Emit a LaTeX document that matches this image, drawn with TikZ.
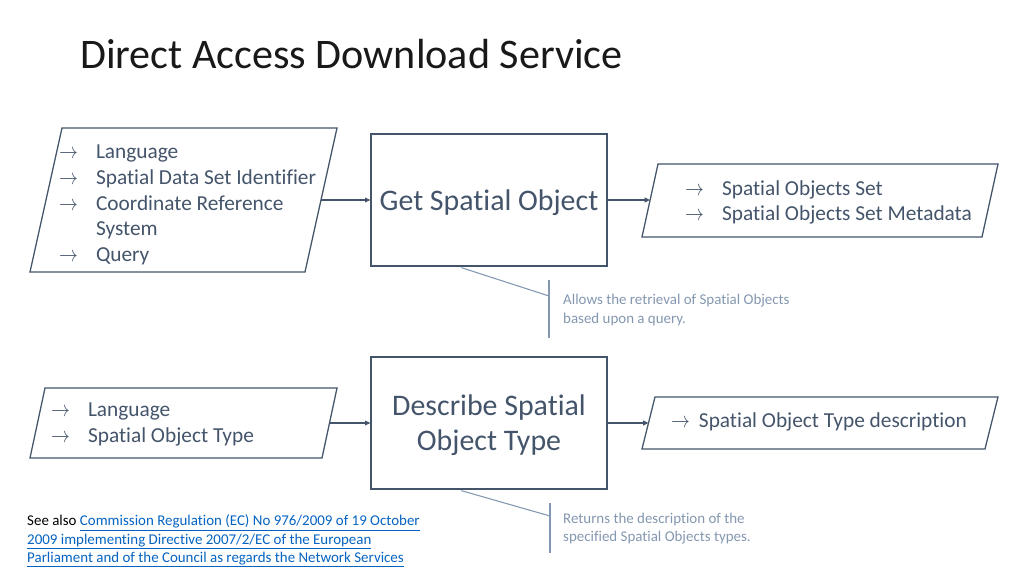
\documentclass[tikz,border=0pt]{standalone}
\usepackage{fontspec}
\setmainfont{Carlito}[Ligatures=NoCommon]
\usepackage{xcolor}
\usetikzlibrary{arrows.meta}
\definecolor{slate}{HTML}{44546A}
\definecolor{mist}{HTML}{8497B0}
\definecolor{linkblue}{HTML}{0563C1}
\tikzset{
  proc/.style={draw=slate,line width=1.2pt,minimum width=221.25pt,minimum height=123.75pt,align=center,text=slate,text depth=0pt,font=\fontsize{28}{33}\selectfont},
  iobox/.style={draw=slate,line width=1.2pt,line join=miter},
  items/.style={anchor=west,align=left,inner sep=0pt,text=slate,font=\fontsize{20}{24}\selectfont},
  arr/.style={-{Triangle[length=5pt,width=4.5pt]},draw=slate,line width=1pt},
  note/.style={anchor=west,align=left,inner sep=0pt,text=mist,font=\fontsize{14}{17}\selectfont},
  bar/.style={draw=mist,line width=1pt},
}
\newcommand{\arrowglyph}{\scalebox{0.85}[1]{$\rightarrow$}}
\newcommand{\itemarrow}{\makebox[34.5pt][l]{\arrowglyph}}
\newcommand{\linkline}[1]{{\color{linkblue}\underline{#1}}}

\begin{document}
\begin{tikzpicture}[x=0.9375pt,y=-0.9375pt]
\useasboundingbox (0,0) rectangle (1024,576);
\node[anchor=base west,inner sep=0pt,font=\fontsize{39.5}{47}\selectfont,text=black!90] (title) at (80,69) {Direct Access Download Service};

% get spatial object
\draw[iobox] (30,272) -- (62,128) -- (337,128) -- (305,272) -- cycle;
\coordinate (in1e) at (321,200);
\node[items] (in1txt) at (59,205) {\itemarrow Language\\ \itemarrow Spatial Data Set Identifier\\ \itemarrow Coordinate Reference\\ \makebox[34.5pt]{}System\\ \itemarrow Query};
\node[proc] (get) at (489,200) {Get Spatial Object};
\draw[iobox] (642,237) -- (658,164) -- (998,164) -- (982,237) -- cycle;
\coordinate (out1w) at (650,200);
\node[items] (out1txt) at (685,202.5) {\itemarrow Spatial Objects Set\\ \itemarrow Spatial Objects Set Metadata};
\draw[arr] (in1e) -- (get.west);
\draw[arr] (get.east) -- (out1w);

% callout
\coordinate (c1a) at ([shift={(91,1)}]get.south west);
\coordinate (c1b) at (549,296);
\coordinate (c1t) at (549,280);
\coordinate (c1d) at (549,338);
\draw[bar] (c1a) -- (c1b);
\draw[bar] (c1t) -- (c1d);
\node[note] (note1) at (563,310) {Allows the retrieval of Spatial Objects\\based upon a query.};

% describe spatial object type
\draw[iobox] (30,458) -- (45,388) -- (337,388) -- (322,458) -- cycle;
\coordinate (in2e) at (329.5,423);
\node[items] (in2txt) at (51,424.5) {\itemarrow Language\\ \itemarrow Spatial Object Type};
\node[proc] (desc) at (489,423) {Describe Spatial\\Object Type};
\draw[iobox] (642,449) -- (655,397) -- (998,397) -- (985,449) -- cycle;
\coordinate (out2w) at (648.5,423);
\node[items] (out2txt) at (671,422) {\makebox[26pt][l]{\arrowglyph}Spatial Object Type description};
\draw[arr] (in2e) -- (desc.west);
\draw[arr] (desc.east) -- (out2w);

\coordinate (c2a) at ([shift={(91,1)}]desc.south west);
\coordinate (c2b) at (550,516);
\coordinate (c2t) at (550,503);
\coordinate (c2d) at (550,553);
\draw[bar] (c2a) -- (c2b);
\draw[bar] (c2t) -- (c2d);
\node[note] (note2) at (563,529) {Returns the description of the\\specified Spatial Objects types.};

% reference
\node[anchor=west,align=left,inner sep=0pt,font=\fontsize{14}{17}\selectfont] (see) at (27,541)
  {See also \linkline{Commission Regulation (EC) No 976/2009 of 19 October}\\
   \linkline{2009 implementing Directive 2007/2/EC of the European}\\
   \linkline{Parliament and of the Council as regards the Network Services}};
\end{tikzpicture}
\end{document}
